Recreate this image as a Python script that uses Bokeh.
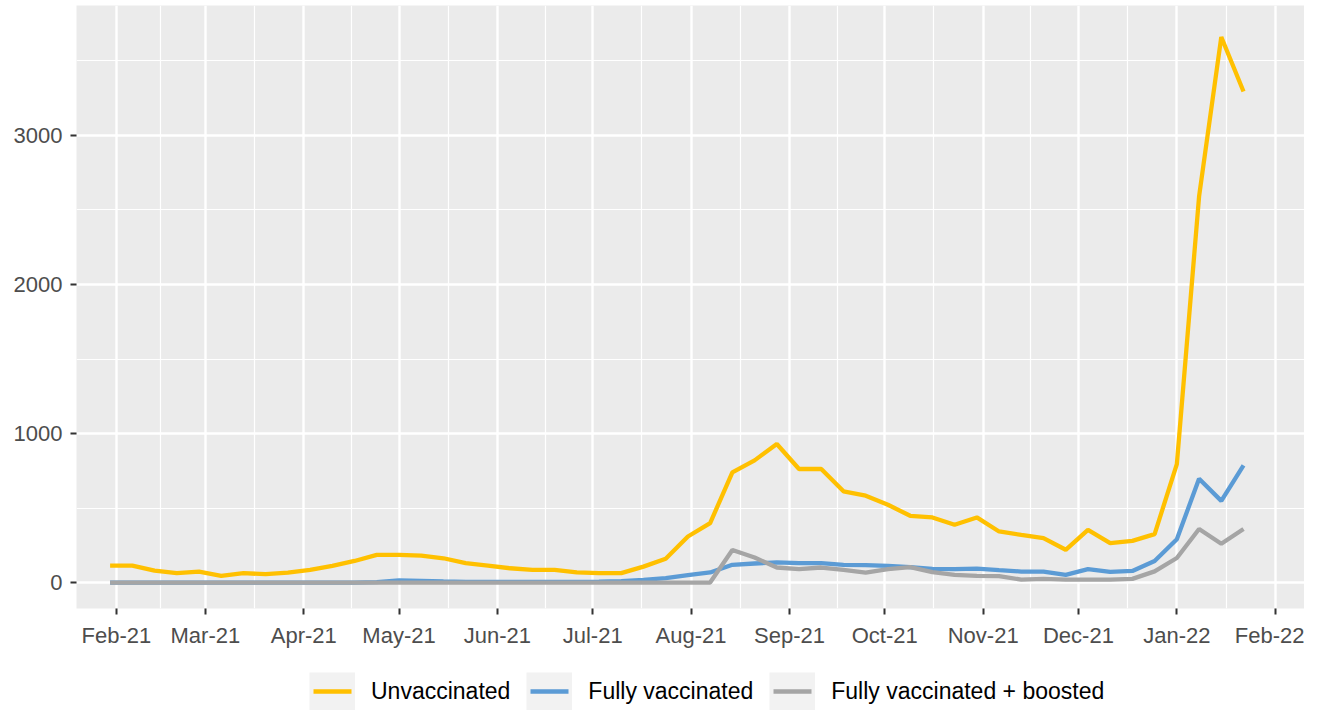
import calendar
from datetime import datetime, timedelta

from bokeh.plotting import figure
from bokeh.layouts import column
from bokeh.models import (Range1d, FixedTicker, DatetimeTickFormatter, Legend,
                          LegendItem)
from bokeh.embed import file_html
from bokeh.resources import INLINE

# ---------------- data ----------------
start_date = datetime(2021, 1, 30)
n_weeks = 52
dates = [start_date + timedelta(days=7 * i) for i in range(n_weeks)]

unvaccinated = [114, 114, 80, 63, 74, 45, 63, 56, 67, 85, 112, 145, 186, 186,
                181, 163, 130, 114, 96, 85, 85, 69, 63, 63, 107, 160, 309, 399,
                740, 820, 930, 762, 762, 612, 583, 522, 448, 437, 388, 437, 343,
                320, 298, 220, 354, 265, 280, 325, 795, 2590, 3661, 3295]

fully_vaccinated = [0, 0, 0, 0, 0, 0, 0, 0, 0, 0, 0, 0, 3, 15, 12, 8, 5, 5, 5,
                    5, 5, 5, 6, 10, 18, 30, 50, 68, 119, 128, 135, 130, 130,
                    119, 117, 112, 103, 92, 90, 94, 83, 74, 74, 52, 90, 72, 78,
                    145, 291, 696, 548, 787]

boosted = [0, 0, 0, 0, 0, 0, 0, 0, 0, 0, 0, 0, 0, 0, 0, 0, 0, 0, 0, 0, 0, 0,
           0, 0, 0, 0, 0, 0, 218, 168, 101, 90, 101, 85, 67, 90, 103, 70, 52,
           45, 43, 20, 25, 20, 20, 20, 25, 75, 165, 359, 260, 359]

series_names = ["Unvaccinated", "Fully vaccinated", "Fully vaccinated + boosted"]
series_values = [unvaccinated, fully_vaccinated, boosted]
series_colors = ["#FFC000", "#5B9BD5", "#A5A5A5"]

month_ticks = [datetime(2021, m, 1) for m in range(2, 13)] + \
              [datetime(2022, 1, 1), datetime(2022, 2, 1)]
y_major = [0, 1000, 2000, 3000]
y_minor = [500, 1500, 2500, 3500]


def ms(d):
    return calendar.timegm(d.timetuple()) * 1000.0


x_major = [ms(d) for d in month_ticks]
x_minor = [(a + b) / 2 for a, b in zip(x_major[:-1], x_major[1:])]
x_minor = [x_major[0] - (x_major[1] - x_major[0]) / 2] + x_minor + \
          [x_major[-1] + (x_major[-1] - x_major[-2]) / 2]

FONT = "Liberation Sans"

p = figure(frame_width=1228, frame_height=603, x_axis_type="datetime",
           x_range=Range1d(datetime(2021, 1, 19, 10), datetime(2022, 2, 10, 5)),
           y_range=Range1d(-174, 3872),
           output_backend="svg", toolbar_location=None,
           min_border_left=76, min_border_right=0, min_border_top=5,
           min_border_bottom=45)

p.background_fill_color = "#EBEBEB"
p.border_fill_color = "white"
p.outline_line_color = None

# grid
for g in (p.xgrid, p.ygrid):
    g.grid_line_color = "white"
    g.grid_line_width = 2.4
    g.minor_grid_line_color = "white"
    g.minor_grid_line_width = 1.2

p.xaxis.ticker = FixedTicker(ticks=x_major, minor_ticks=x_minor)
p.yaxis.ticker = FixedTicker(ticks=y_major, minor_ticks=y_minor)
fmt = "%b-%y"
p.xaxis.formatter = DatetimeTickFormatter(days=fmt, months=fmt, years=fmt,
                                          hours=fmt, minutes=fmt)

for ax in (p.xaxis, p.yaxis):
    ax.axis_line_color = None
    ax.major_tick_line_color = "#333333"
    ax.major_tick_line_width = 2
    ax.major_tick_out = 6
    ax.major_tick_in = 0
    ax.minor_tick_line_color = None
    ax.major_label_text_color = "#4D4D4D"
    ax.major_label_text_font = FONT
    ax.major_label_text_font_size = "22px"
p.xaxis.major_label_standoff = 8
p.yaxis.major_label_standoff = 8

for name, vals, col in zip(series_names, series_values, series_colors):
    p.line(dates, vals, line_color=col, line_width=4.3)

# ---------------- legend (separate strip below the plot) ----------------
leg = figure(frame_width=1304, frame_height=58,
             x_range=Range1d(0, 1), y_range=Range1d(0, 1),
             output_backend="svg", toolbar_location=None,
             x_axis_location=None, y_axis_location=None,
             min_border_left=0, min_border_right=0, min_border_top=0,
             min_border_bottom=0)
leg.grid.visible = False
leg.outline_line_color = None
leg.background_fill_color = "white"
leg.border_fill_color = "white"

# off-range key renderers used only for the legend keys
bg = leg.line([5, 6], [5, 5], line_color="#F2F2F2", line_width=38,
              line_cap="butt")
items = []
for name, col in zip(series_names, series_colors):
    kr = leg.line([5, 6], [5, 5], line_color=col, line_width=4.3,
                  line_dash="0 4 38 400")
    items.append(LegendItem(label=name, renderers=[bg, kr]))

legend = Legend(items=items, orientation="horizontal", location=(309, 1),
                glyph_width=46, glyph_height=38, label_standoff=16,
                spacing=16, padding=0, margin=0,
                label_text_font=FONT, label_text_font_size="23px",
                label_text_color="black",
                border_line_color=None, background_fill_alpha=0)
leg.add_layout(legend)

open("out.html", "w").write(file_html(column(p, leg), INLINE))
